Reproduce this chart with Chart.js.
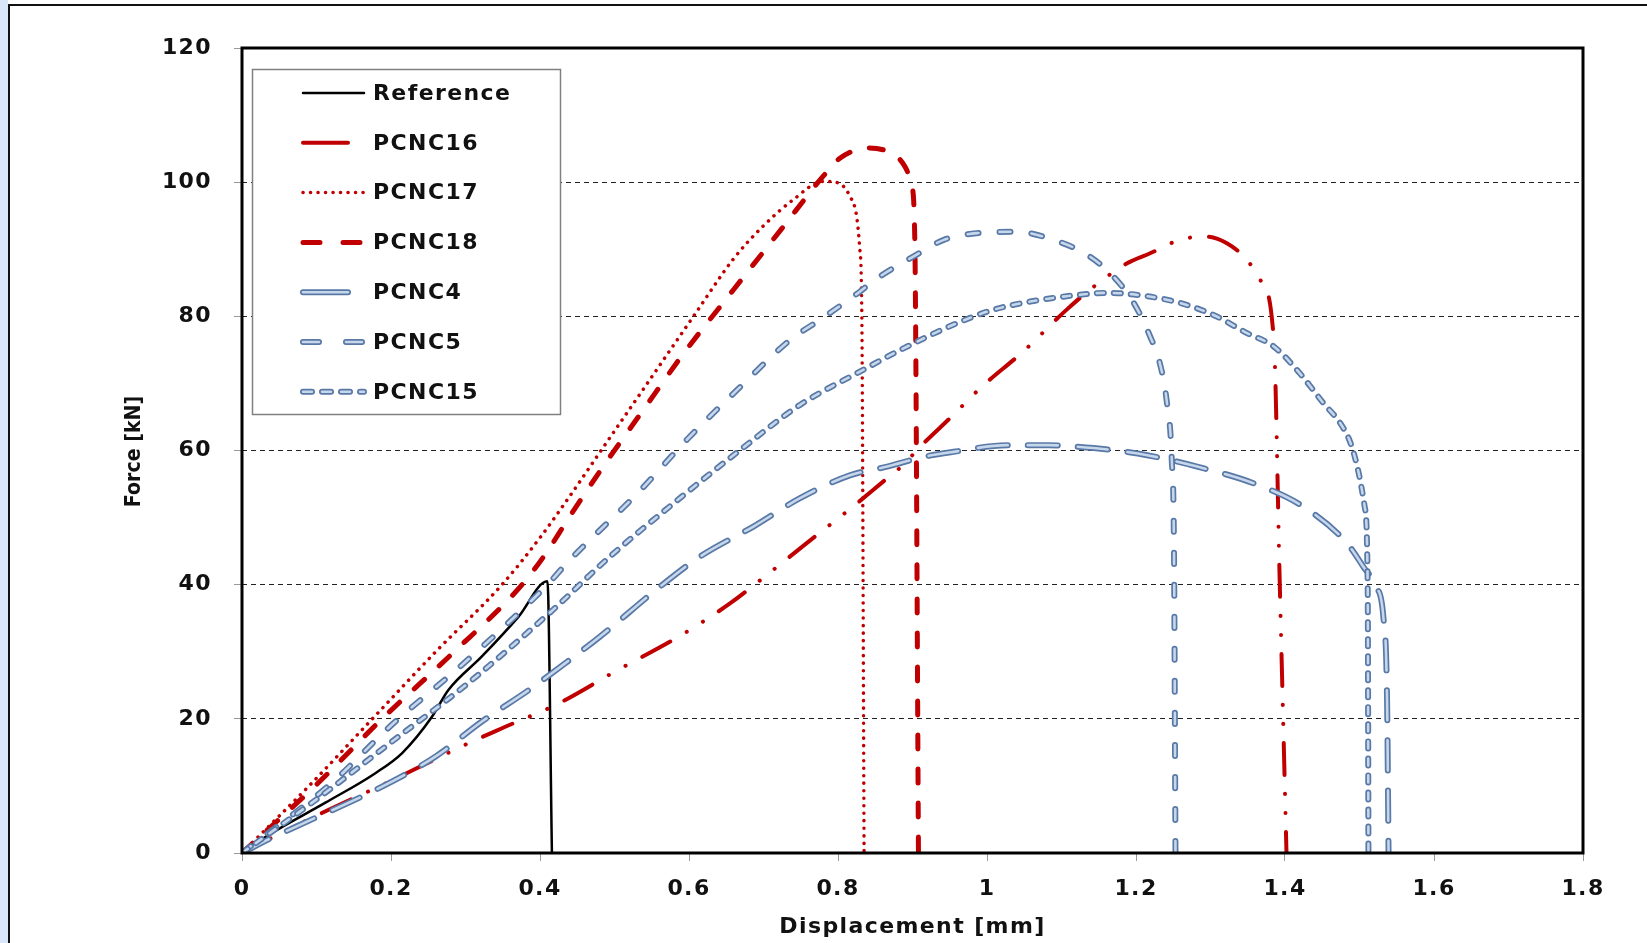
<!DOCTYPE html>
<html><head><meta charset="utf-8">
<script src="https://cdn.jsdelivr.net/npm/chart.js@4.4.1/dist/chart.umd.min.js"></script>
<style>
html,body{margin:0;padding:0;background:#fff;}
#wrap{position:relative;width:1647px;height:943px;overflow:hidden;background:#fff;}
#band{position:absolute;left:0;top:0;width:8px;height:943px;background:#d8e7fa;}
#frame{position:absolute;left:8px;top:4px;width:1700px;height:1000px;border-left:2px solid #111;border-top:2px solid #111;}
canvas{position:absolute;left:0;top:0;}
</style></head><body>
<div id="wrap"><div id="band"></div><div id="frame"></div><canvas id="c" width="1647" height="943"></canvas></div>
<script>
// ---- data (Displacement [mm], Force [kN]) ----
const seriesLabels = ['Reference','PCNC16','PCNC17','PCNC18','PCNC4','PCNC5','PCNC15'];
const xTitle = 'Displacement [mm]';
const yTitle = 'Force [kN]';

const refX = [0, 0.036, 0.112, 0.179, 0.215, 0.255, 0.277, 0.322, 0.371, 0.410, 0.416];
const refY = [0, 2.7, 7.5, 11.9, 14.9, 20.3, 24.3, 29.3, 35.2, 40.5, 0];

const pcnc16X = [0, 0.06, 0.125, 0.197, 0.295, 0.349, 0.425, 0.50, 0.59, 0.655, 0.696, 0.758, 0.823, 0.861, 0.881, 0.917, 0.953, 0.991, 1.049, 1.107, 1.143, 1.188, 1.219, 1.259, 1.293, 1.322, 1.349, 1.367, 1.385, 1.393, 1.402];
const pcnc16Y = [0, 3.4, 6.9, 10.6, 15.9, 18.6, 22.3, 27.0, 32.5, 37.2, 40.7, 46.2, 51.9, 55.4, 57.2, 61.3, 65.1, 69.3, 74.8, 81.0, 84.4, 87.9, 89.4, 91.4, 91.9, 90.9, 88.4, 85.4, 76.5, 40, 0];

const pcnc17X = [0, 0.09, 0.175, 0.26, 0.349, 0.40, 0.44, 0.482, 0.544, 0.606, 0.66, 0.70, 0.74, 0.78, 0.80, 0.816, 0.825, 0.829, 0.832, 0.835];
const pcnc17Y = [0, 10, 20, 30, 40, 47, 53.2, 60, 70, 80, 88.6, 93.5, 97.4, 100.1, 99.9, 97.9, 94.9, 90.4, 80, 0];

const pcnc18X = [0, 0.1, 0.188, 0.28, 0.376, 0.41, 0.436, 0.481, 0.539, 0.593, 0.66, 0.724, 0.781, 0.803, 0.841, 0.879, 0.890, 0.899, 0.903, 0.908];
const pcnc18Y = [0, 10.2, 20, 29.5, 40, 45, 49.5, 57, 66.1, 74.5, 84, 93, 101.0, 103.6, 105.1, 103.8, 102.3, 99.4, 92, 0];

const pcnc4X = [0, 0.035, 0.072, 0.188, 0.260, 0.322, 0.385, 0.434, 0.481, 0.561, 0.615, 0.687, 0.749, 0.816, 0.866, 0.917, 0.955, 1.027, 1.083, 1.116, 1.165, 1.215, 1.282, 1.358, 1.425, 1.483, 1.505, 1.522, 1.532, 1.537, 1.539];
const pcnc4Y = [0, 2.0, 3.9, 9.9, 14.4, 19.6, 24.3, 28.3, 32.3, 39.7, 44.2, 48.7, 52.9, 56.3, 57.6, 59.1, 59.8, 60.8, 60.8, 60.6, 60.1, 59.3, 57.6, 55.1, 51.6, 46.2, 42.7, 39.7, 35.2, 22.8, 0];

const pcnc5X = [0, 0.121, 0.2, 0.3, 0.41, 0.436, 0.535, 0.597, 0.669, 0.736, 0.776, 0.821, 0.857, 0.901, 0.942, 0.986, 1.04, 1.089, 1.134, 1.17, 1.197, 1.219, 1.232, 1.241, 1.248, 1.251, 1.253];
const pcnc5Y = [0, 10.5, 19, 28.5, 40, 43.2, 54.1, 61.6, 69.5, 76.5, 79.5, 83, 86, 88.9, 91.4, 92.4, 92.6, 91.4, 89.2, 85.9, 82, 77, 73, 67.6, 58.6, 45, 0];

const pcnc15X = [0, 0.1, 0.2, 0.3, 0.414, 0.494, 0.579, 0.669, 0.749, 0.830, 0.884, 0.960, 1.009, 1.058, 1.107, 1.161, 1.215, 1.259, 1.304, 1.349, 1.385, 1.42, 1.452, 1.474, 1.488, 1.499, 1.507, 1.511, 1.512];
const pcnc15Y = [0, 8, 16.5, 25, 35.9, 44.2, 52.1, 60.1, 66.8, 71.8, 75, 79, 81, 82.2, 83, 83.5, 83, 82, 80.2, 77.5, 75.5, 71.5, 67, 64.1, 61.1, 56.6, 51.6, 40, 0];

const xAxisMin = 0, xAxisMax = 1.8, xAxisStep = 0.2;
const yAxisMin = 0, yAxisMax = 120, yAxisStep = 20;

// ---- styles ----
const RED = '#c00000', BLUE_EDGE = '#5878a6', BLUE_FILL = '#c6d7ec';
function pts(xs, ys){ return xs.map((x,i)=>({x:x, y:ys[i]})); }

const series = [
  {xs:refX, ys:refY, color:'#000', width:2.5, dash:[], legendDash:[]},
  {xs:pcnc16X, ys:pcnc16Y, color:RED, width:4, dash:[32,19,0.1,19,0.1,19], legendDash:[45,200]},
  {xs:pcnc17X, ys:pcnc17Y, color:RED, width:3.5, dash:[0.1,7.4], legendDash:[0.1,7.4]},
  {xs:pcnc18X, ys:pcnc18Y, color:RED, width:5, dash:[14,20], legendDash:[17,23]},
  {xs:pcnc4X, ys:pcnc4Y, blue:true, dash:[30,20], legendDash:[45,200]},
  {xs:pcnc5X, ys:pcnc5Y, blue:true, dash:[11,21], legendDash:[16,27]},
  {xs:pcnc15X, ys:pcnc15Y, blue:true, dash:[7,10], legendDash:[9,10]}
];

const datasets = [];
series.forEach((s,i)=>{
  const base = {pointRadius:0, pointHoverRadius:0, fill:false, borderCapStyle:'round', borderJoinStyle:'round', cubicInterpolationMode:'monotone'};
  if (s.blue) {
    datasets.push(Object.assign({}, base, {label:seriesLabels[i], data:pts(s.xs,s.ys), borderColor:BLUE_FILL, borderWidth:2.6, borderDash:s.dash, order:100-2*i-1, legendDash:s.legendDash, edgeColor:BLUE_EDGE, edgeWidth:6}));
    datasets.push(Object.assign({}, base, {label:seriesLabels[i]+' edge', data:pts(s.xs,s.ys), borderColor:BLUE_EDGE, borderWidth:6, borderDash:s.dash, order:100-2*i, isOutline:true}));
  } else {
    datasets.push(Object.assign({}, base, {label:seriesLabels[i], data:pts(s.xs,s.ys), borderColor:s.color, borderWidth:s.width, borderDash:s.dash, order:100-2*i, legendDash:s.legendDash}));
  }
});

const FONT = {family:'"DejaVu Sans", Verdana, sans-serif', size:22, weight:'bold'};

const deco = {
  id:'deco',
  beforeDraw(c){ c.ctx.letterSpacing = '1.4px'; },
  afterDatasetsDraw(c){
    const ctx = c.ctx, a = c.chartArea;
    ctx.save();
    ctx.setLineDash([]);
    ctx.strokeStyle = '#000'; ctx.lineWidth = 3;
    ctx.strokeRect(a.left, a.top, a.right - a.left, a.bottom - a.top);
    // legend box
    const bx = 252.5, by = 69.5, bw = 308, bh = 345;
    ctx.fillStyle = '#fff'; ctx.fillRect(bx, by, bw, bh);
    ctx.strokeStyle = '#808080'; ctx.lineWidth = 1.5; ctx.strokeRect(bx, by, bw, bh);
    ctx.font = 'bold 22px "DejaVu Sans", Verdana, sans-serif';
    ctx.textBaseline = 'middle'; ctx.textAlign = 'left';
    const items = c.data.datasets.filter(d => !d.isOutline);
    items.forEach((d,i)=>{
      const y = 93 + i*49.8;
      const x0 = 303, x1 = 364;
      ctx.lineCap = 'round';
      if (d.edgeColor) {
        ctx.strokeStyle = d.edgeColor; ctx.lineWidth = d.edgeWidth; ctx.setLineDash(d.legendDash);
        ctx.beginPath(); ctx.moveTo(x0, y); ctx.lineTo(x1, y); ctx.stroke();
      }
      ctx.strokeStyle = d.borderColor; ctx.lineWidth = d.borderWidth; ctx.setLineDash(d.legendDash);
      ctx.beginPath(); ctx.moveTo(x0, y); ctx.lineTo(x1, y); ctx.stroke();
      ctx.setLineDash([]);
      ctx.fillStyle = '#111';
      ctx.fillText(d.label, 373, y + 1);
    });
    // y-axis title (narrower than horizontal text in the reference)
    ctx.letterSpacing = '0px';
    ctx.save();
    ctx.translate(134, (a.top + a.bottom) / 2 + 1);
    ctx.rotate(-Math.PI / 2);
    ctx.scale(1, 1.12);
    ctx.font = 'bold 19px "DejaVu Sans", Verdana, sans-serif';
    ctx.textAlign = 'center'; ctx.textBaseline = 'middle';
    ctx.fillStyle = '#111';
    ctx.fillText(yTitle, 0, 0);
    ctx.restore();
    ctx.restore();
  }
};

new Chart(document.getElementById('c'), {
  type:'line',
  data:{datasets:datasets},
  plugins:[deco],
  options:{
    responsive:false, animation:false, events:[],
    layout:{padding:{left:121, right:64, top:48, bottom:3}},
    plugins:{legend:{display:false}, tooltip:{enabled:false}},
    scales:{
      x:{type:'linear', min:xAxisMin, max:xAxisMax,
        ticks:{stepSize:xAxisStep, color:'#111', font:FONT, padding:15, maxRotation:0, autoSkip:false,
          callback:(v)=>String(Math.round(v*10)/10)},
        grid:{drawOnChartArea:false, drawTicks:true, tickLength:8, tickColor:'#9a9a9a', tickWidth:1},
        border:{display:false},
        title:{display:true, text:xTitle, color:'#111', font:FONT, padding:0},
        afterFit(s){ s.height = 87; }
      },
      y:{type:'linear', min:yAxisMin, max:yAxisMax,
        ticks:{stepSize:yAxisStep, color:'#111', font:FONT, padding:22},
        grid:{color:'#222', lineWidth:1, drawTicks:true, tickLength:8, tickColor:'#9a9a9a', tickWidth:1, tickBorderDash:[]},
        border:{display:false, dash:[5,4]},
        title:{display:false, text:yTitle},
        afterFit(s){ s.width = 121; }
      }
    }
  }
});
</script>
</body></html>
